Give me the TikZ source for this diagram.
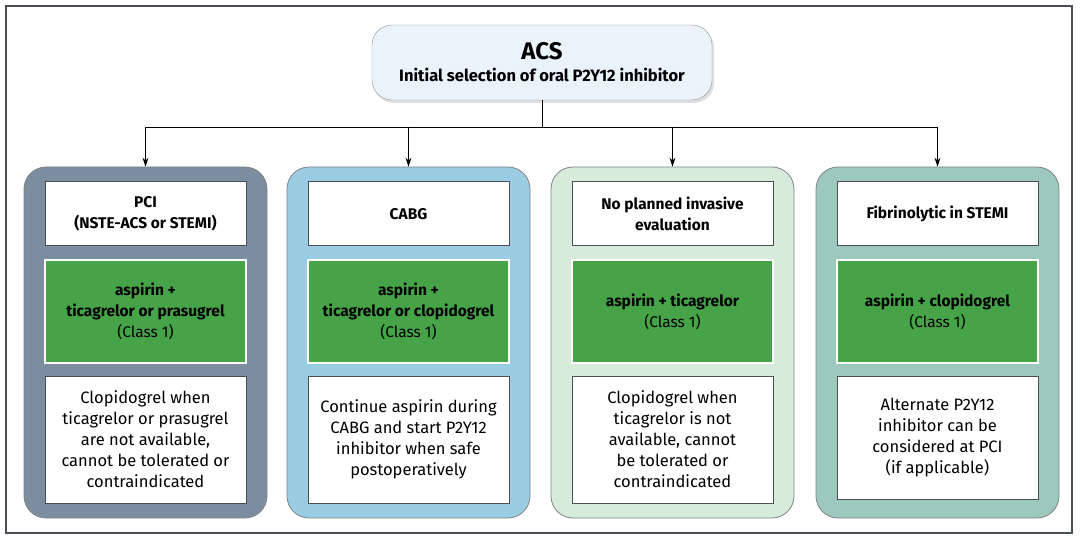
\documentclass[tikz,border=0pt]{standalone}
\usepackage{fontspec}
\setmainfont{Fira Sans}
\usetikzlibrary{arrows.meta,shadows}

\definecolor{acsfill}{HTML}{EAF2FB}
\definecolor{pcigray}{HTML}{7B8D9E}
\definecolor{cabgblue}{HTML}{9ACDE4}
\definecolor{noinvgreen}{HTML}{D6EBD9}
\definecolor{fibrteal}{HTML}{9DC8BE}
\definecolor{drugreen}{HTML}{46A347}
\definecolor{edge}{HTML}{4A4F55}

\begin{document}
\begin{tikzpicture}[x=1pt,y=-1pt,
    panel/.style={draw=edge!70,line width=0.8pt,rounded corners=22pt,minimum width=243pt,minimum height=351pt},
    headbox/.style={draw=edge,fill=white,line width=1pt,minimum width=201pt,minimum height=64pt,align=center,font=\fontsize{15.5}{21}\selectfont\bfseries},
    drugbox/.style={draw=white,fill=drugreen,line width=1.5pt,minimum width=201pt,minimum height=103pt,align=center,font=\fontsize{15.5}{21}\selectfont},
    notebox/.style={draw=edge,fill=white,line width=1pt,minimum width=201pt,minimum height=127pt,align=center,font=\fontsize{16.5}{21}\selectfont},
    link/.style={-{Stealth[length=9pt,width=6pt]},line width=0.8pt}]
  \useasboundingbox (0,0) rectangle (1080,540);
  \draw[edge,line width=1.6pt] (6,6) rectangle (1072,533);

  % top box
  \node[draw=edge!60,fill=acsfill,rounded corners=20pt,minimum width=340pt,minimum height=75pt,
        align=center,drop shadow={shadow xshift=2pt,shadow yshift=-3pt,opacity=0.25}] (acs) at (542,62.5)
        {{\fontsize{24}{26}\selectfont\bfseries ACS}\\[7pt]{\fontsize{16.5}{18}\selectfont\bfseries Initial selection of oral P2Y12 inhibitor}};

  % panels
  \node[panel,fill=pcigray] (pci) at (145.5,342.5) {};
  \node[panel,fill=cabgblue] (cabg) at (408.5,342.5) {};
  \node[panel,fill=noinvgreen] (noinv) at (672.5,342.5) {};
  \node[panel,fill=fibrteal] (fibr) at (937.5,342.5) {};

  % connectors
  \draw[line width=0.8pt] (acs.south) -- (542,127) coordinate (split);
  \draw[line width=0.8pt] (split -| pci.north) -- (split -| fibr.north);
  \draw[link] (split -| pci.north) -- (pci.north);
  \draw[link] (split -| cabg.north) -- (cabg.north);
  \draw[link] (split -| noinv.north) -- (noinv.north);
  \draw[link] (split -| fibr.north) -- (fibr.north);

  % PCI
  \node[headbox] (pcihead) at (145.5,214) {PCI\\(NSTE-ACS or STEMI)};
  \node[drugbox] (pcidrug) at (145.5,311.5) {\textbf{aspirin +}\\\textbf{ticagrelor or prasugrel}\\(Class 1)};
  \node[notebox] (pcinote) at (145.5,439.5) {Clopidogrel when\\ticagrelor or prasugrel\\are not available,\\cannot be tolerated or\\contraindicated};

  % CABG
  \node[headbox] (cabghead) at (408.5,214) {CABG};
  \node[drugbox] (cabgdrug) at (408.5,311.5) {\textbf{aspirin +}\\\textbf{ticagrelor or clopidogrel}\\(Class 1)};
  \node[notebox] (cabgnote) at (408.5,439.5) {Continue aspirin during\\CABG and start P2Y12\\inhibitor when safe\\postoperatively};

  % no invasive
  \node[headbox] (noinvhead) at (672.5,214) {No planned invasive\\evaluation};
  \node[drugbox] (noinvdrug) at (672.5,311.5) {\textbf{aspirin + ticagrelor}\\(Class 1)};
  \node[notebox] (noinvnote) at (672.5,439.5) {Clopidogrel when\\ticagrelor is not\\available, cannot\\be tolerated or\\contraindicated};

  % fibrinolytic
  \node[headbox] (fibrhead) at (937.5,214) {Fibrinolytic in STEMI};
  \node[drugbox] (fibrdrug) at (937.5,311.5) {\textbf{aspirin + clopidogrel}\\(Class 1)};
  \node[notebox,minimum height=123pt] (fibrnote) at (937.5,437.5) {Alternate P2Y12\\inhibitor can be\\considered at PCI\\(if applicable)};
\end{tikzpicture}
\end{document}
